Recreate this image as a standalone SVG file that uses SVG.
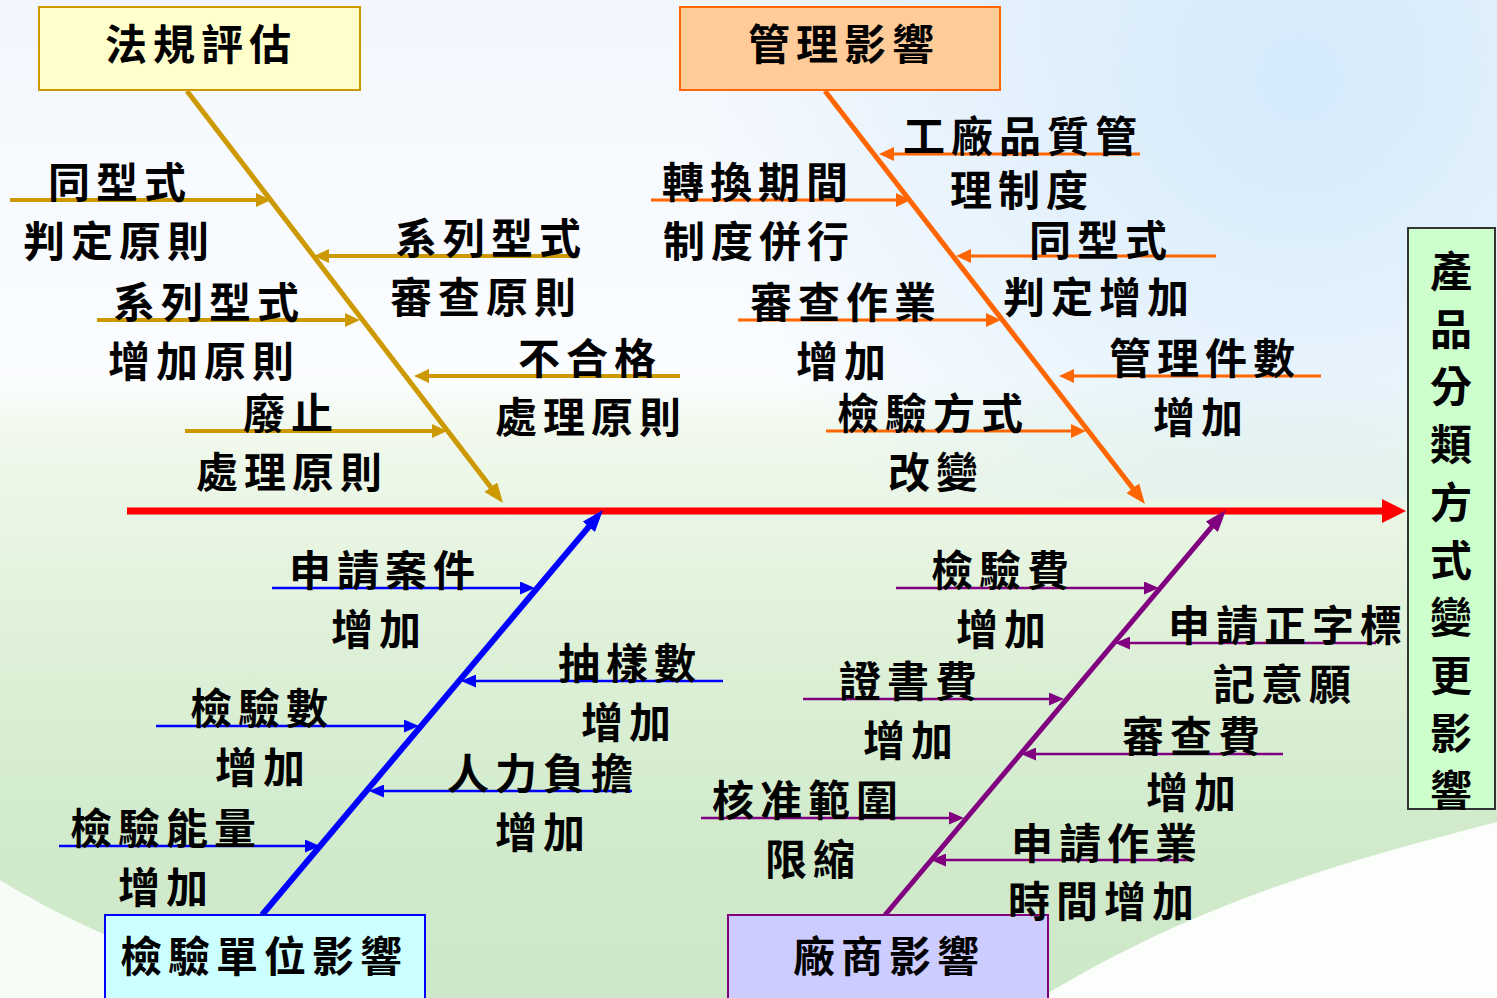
<svg xmlns="http://www.w3.org/2000/svg" width="1497" height="998" viewBox="0 0 1497 998">
<defs>
<style>
.t{font-family:"Noto Sans CJK TC","Noto Sans CJK SC",sans-serif;font-size:42px;font-weight:700;letter-spacing:6px;fill:#000}
.tv{font-family:"Noto Sans CJK TC","Noto Sans CJK SC",sans-serif;font-size:42px;font-weight:700;fill:#000;text-anchor:middle}
.gold{stroke:#CC9900;fill:none}
.orange{stroke:#FF6600;fill:none}
.blue{stroke:#0000FF;fill:none}
.purple{stroke:#800080;fill:none}
.sg{stroke-width:4;marker-end:url(#mg)}
.so{stroke-width:3;marker-end:url(#mo)}
.sb{stroke-width:2.5;marker-end:url(#mb)}
.sp{stroke-width:2.5;marker-end:url(#mp)}
</style>
<linearGradient id="bg" x1="0" y1="0" x2="0" y2="1">
<stop offset="0" stop-color="#f3f7fd"/>
<stop offset="0.38" stop-color="#fbfdff"/>
<stop offset="0.43" stop-color="#f1f9ed"/>
<stop offset="0.62" stop-color="#e0f2da"/>
<stop offset="0.85" stop-color="#d0eacb"/>
<stop offset="1" stop-color="#cde8c8"/>
</linearGradient>
<radialGradient id="tr" cx="1300" cy="80" r="600" gradientUnits="userSpaceOnUse">
<stop offset="0" stop-color="#d4eafb"/>
<stop offset="1" stop-color="#d4eafb" stop-opacity="0"/>
</radialGradient>
<marker id="mg" viewBox="0 0 15 14" refX="11" refY="7" markerWidth="15" markerHeight="14" markerUnits="userSpaceOnUse" orient="auto"><path d="M0,0 L15,7 L0,14 Z" fill="#CC9900"/></marker>
<marker id="mo" viewBox="0 0 15 14" refX="11" refY="7" markerWidth="15" markerHeight="14" markerUnits="userSpaceOnUse" orient="auto"><path d="M0,0 L15,7 L0,14 Z" fill="#FF6600"/></marker>
<marker id="mb" viewBox="0 0 15 13" refX="11" refY="6.5" markerWidth="15" markerHeight="13" markerUnits="userSpaceOnUse" orient="auto"><path d="M0,0 L15,6.5 L0,13 Z" fill="#0000FF"/></marker>
<marker id="mp" viewBox="0 0 15 13" refX="11" refY="6.5" markerWidth="15" markerHeight="13" markerUnits="userSpaceOnUse" orient="auto"><path d="M0,0 L15,6.5 L0,13 Z" fill="#800080"/></marker>
<marker id="mgB" viewBox="0 0 20 16" refX="12" refY="8" markerWidth="20" markerHeight="16" markerUnits="userSpaceOnUse" orient="auto"><path d="M0,0 L20,8 L0,16 Z" fill="#CC9900"/></marker>
<marker id="moB" viewBox="0 0 20 16" refX="12" refY="8" markerWidth="20" markerHeight="16" markerUnits="userSpaceOnUse" orient="auto"><path d="M0,0 L20,8 L0,16 Z" fill="#FF6600"/></marker>
<marker id="mbB" viewBox="0 0 22 16" refX="14" refY="8" markerWidth="22" markerHeight="16" markerUnits="userSpaceOnUse" orient="auto"><path d="M0,0 L22,8 L0,16 Z" fill="#0000FF"/></marker>
<marker id="mpB" viewBox="0 0 22 16" refX="14" refY="8" markerWidth="22" markerHeight="16" markerUnits="userSpaceOnUse" orient="auto"><path d="M0,0 L22,8 L0,16 Z" fill="#800080"/></marker>
<marker id="mr" viewBox="0 0 24 24" refX="14" refY="12" markerWidth="24" markerHeight="24" markerUnits="userSpaceOnUse" orient="auto"><path d="M0,0 L24,12 L0,24 Z" fill="#FF0000"/></marker>
</defs>

<g id="background">
<rect x="0" y="0" width="1497" height="998" fill="url(#bg)"/>
<rect x="0" y="0" width="1497" height="500" fill="url(#tr)"/>
<path d="M1040,998 C1200,900 1350,860 1497,822 L1497,998 Z" fill="#ffffff" opacity="0.92"/>
<path d="M0,880 C80,930 170,960 250,998 L0,998 Z" fill="#ffffff" opacity="0.85"/>
</g>

<g id="connectors">
<line x1="127" y1="511" x2="1396" y2="511" stroke="#FF0000" stroke-width="7" marker-end="url(#mr)"/>
<line class="gold" x1="187" y1="91" x2="498.1" y2="496.7" stroke-width="5" marker-end="url(#mgB)"/>
<line class="orange" x1="825" y1="91" x2="1140.1" y2="497.7" stroke-width="5" marker-end="url(#moB)"/>
<line class="blue" x1="262" y1="915" x2="597.8" y2="516.1" stroke-width="6" marker-end="url(#mbB)"/>
<line class="purple" x1="885" y1="915" x2="1220.8" y2="516.1" stroke-width="5" marker-end="url(#mpB)"/>

<line class="gold sg" x1="10" y1="200" x2="267" y2="200"/>
<line class="gold sg" x1="578" y1="256" x2="318" y2="256"/>
<line class="gold sg" x1="97" y1="320" x2="356" y2="320"/>
<line class="gold sg" x1="680" y1="376" x2="418" y2="376"/>
<line class="gold sg" x1="185" y1="431" x2="443" y2="431"/>

<line class="orange so" x1="1140" y1="154" x2="883" y2="154"/>
<line class="orange so" x1="651" y1="200" x2="907" y2="200"/>
<line class="orange so" x1="1216" y1="256" x2="960" y2="256"/>
<line class="orange so" x1="738" y1="320" x2="997" y2="320"/>
<line class="orange so" x1="1321" y1="376" x2="1063" y2="376"/>
<line class="orange so" x1="826" y1="431" x2="1082" y2="431"/>

<line class="blue sb" x1="272" y1="588" x2="531" y2="588"/>
<line class="blue sb" x1="723" y1="681" x2="465" y2="681"/>
<line class="blue sb" x1="156" y1="726" x2="415" y2="726"/>
<line class="blue sb" x1="632" y1="791" x2="373" y2="791"/>
<line class="blue sb" x1="59" y1="846" x2="316" y2="846"/>

<line class="purple sp" x1="896" y1="588" x2="1155" y2="588"/>
<line class="purple sp" x1="1376" y1="643" x2="1119" y2="643"/>
<line class="purple sp" x1="803" y1="699" x2="1060" y2="699"/>
<line class="purple sp" x1="1283" y1="754" x2="1025" y2="754"/>
<line class="purple sp" x1="701" y1="818" x2="960" y2="818"/>
<line class="purple sp" x1="1192" y1="860" x2="935" y2="860"/>
</g>

<g id="node-law">
<rect x="39" y="7" width="321" height="83" fill="#FFFFCC" stroke="#CC9900" stroke-width="2"/>
<text class="t" x="105" y="60">法規評估</text>
</g>
<g id="node-mgmt">
<rect x="680" y="7" width="320" height="83" fill="#FFCC99" stroke="#FF6600" stroke-width="2"/>
<text class="t" x="748" y="60">管理影響</text>
</g>
<g id="node-lab">
<rect x="105" y="915" width="320" height="100" fill="#CCFFFF" stroke="#0000FF" stroke-width="2"/>
<text class="t" x="120" y="972">檢驗單位影響</text>
</g>
<g id="node-vendor">
<rect x="728" y="915" width="320" height="100" fill="#CCCCFF" stroke="#800080" stroke-width="2"/>
<text class="t" x="793" y="972">廠商影響</text>
</g>
<g id="node-effect">
<rect x="1408" y="228" width="87" height="581" fill="#CCFFCC" stroke="#333333" stroke-width="2"/>
<text class="tv"><tspan x="1451" y="287">產</tspan><tspan x="1451" y="344.7">品</tspan><tspan x="1451" y="402.4">分</tspan><tspan x="1451" y="460.1">類</tspan><tspan x="1451" y="517.8">方</tspan><tspan x="1451" y="575.5">式</tspan><tspan x="1451" y="633.2">變</tspan><tspan x="1451" y="690.9">更</tspan><tspan x="1451" y="748.6">影</tspan><tspan x="1451" y="806.3">響</tspan></text>
</g>

<g id="cause-law-1"><text class="t" x="48" y="198">同型式</text><text class="t" x="23" y="257">判定原則</text></g>
<g id="cause-law-2"><text class="t" x="395" y="254">系列型式</text><text class="t" x="390" y="313">審查原則</text></g>
<g id="cause-law-3"><text class="t" x="113" y="318">系列型式</text><text class="t" x="108" y="377">增加原則</text></g>
<g id="cause-law-4"><text class="t" x="518" y="374">不合格</text><text class="t" x="495" y="433">處理原則</text></g>
<g id="cause-law-5"><text class="t" x="243" y="429">廢止</text><text class="t" x="196" y="488">處理原則</text></g>

<g id="cause-mgmt-1"><text class="t" x="903" y="152">工廠品質管</text><text class="t" x="950" y="206">理制度</text></g>
<g id="cause-mgmt-2"><text class="t" x="662" y="198">轉換期間</text><text class="t" x="663" y="257">制度併行</text></g>
<g id="cause-mgmt-3"><text class="t" x="1029" y="256">同型式</text><text class="t" x="1003" y="313">判定增加</text></g>
<g id="cause-mgmt-4"><text class="t" x="750" y="318">審查作業</text><text class="t" x="796" y="377">增加</text></g>
<g id="cause-mgmt-5"><text class="t" x="1109" y="374">管理件數</text><text class="t" x="1153" y="433">增加</text></g>
<g id="cause-mgmt-6"><text class="t" x="837" y="429">檢驗方式</text><text class="t" x="888" y="488">改變</text></g>

<g id="cause-lab-1"><text class="t" x="289" y="586">申請案件</text><text class="t" x="331" y="645">增加</text></g>
<g id="cause-lab-2"><text class="t" x="558" y="679">抽樣數</text><text class="t" x="581" y="738">增加</text></g>
<g id="cause-lab-3"><text class="t" x="190" y="724">檢驗數</text><text class="t" x="215" y="783">增加</text></g>
<g id="cause-lab-4"><text class="t" x="447" y="789">人力負擔</text><text class="t" x="495" y="848">增加</text></g>
<g id="cause-lab-5"><text class="t" x="70" y="844">檢驗能量</text><text class="t" x="118" y="903">增加</text></g>

<g id="cause-vendor-1"><text class="t" x="931" y="586">檢驗費</text><text class="t" x="956" y="645">增加</text></g>
<g id="cause-vendor-2"><text class="t" x="1168" y="641">申請正字標</text><text class="t" x="1213" y="700">記意願</text></g>
<g id="cause-vendor-3"><text class="t" x="839" y="697">證書費</text><text class="t" x="863" y="756">增加</text></g>
<g id="cause-vendor-4"><text class="t" x="1122" y="752">審查費</text><text class="t" x="1146" y="808">增加</text></g>
<g id="cause-vendor-5"><text class="t" x="712" y="816">核准範圍</text><text class="t" x="765" y="875">限縮</text></g>
<g id="cause-vendor-6"><text class="t" x="1011" y="859">申請作業</text><text class="t" x="1008" y="917">時間增加</text></g>
</svg>
